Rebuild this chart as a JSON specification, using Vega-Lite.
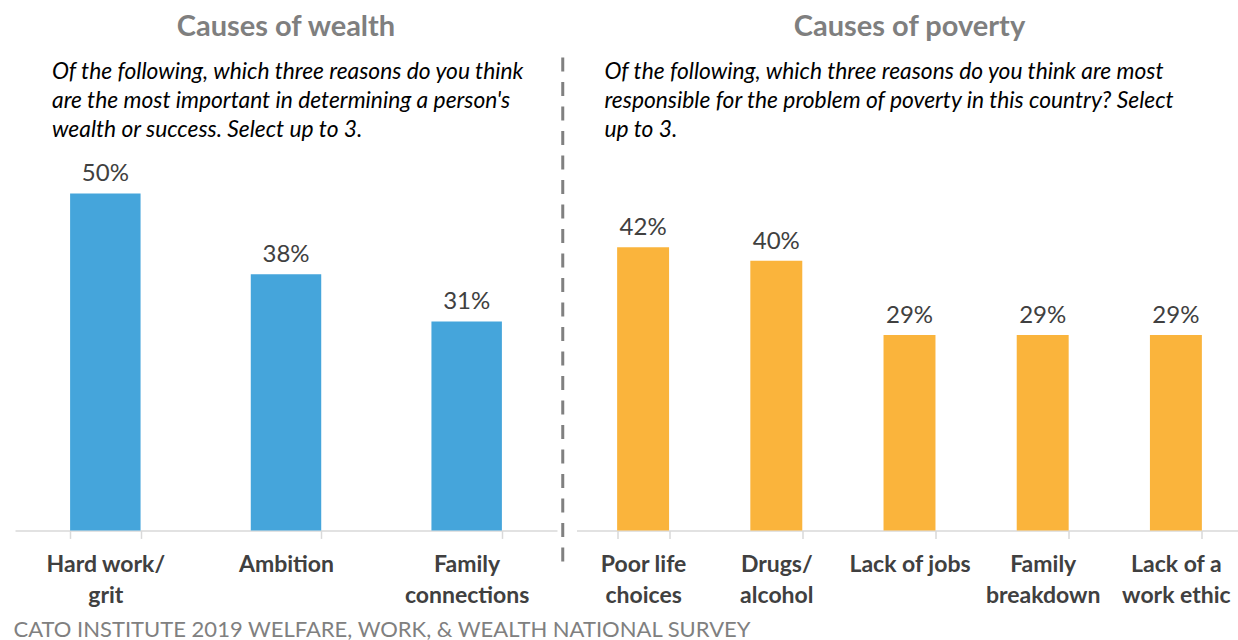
{
  "$schema": "https://vega.github.io/schema/vega-lite/v6.json",
  "padding": {"left": 13, "top": 12, "right": 0, "bottom": 0},
  "spacing": 3.75,
  "background": "white",
  "config": {
    "view": {"stroke": null},
    "font": "Lato",
    "axisX": {
      "title": null,
      "labelAngle": 0,
      "labelFont": "Lato",
      "labelFontWeight": "bold",
      "labelFontSize": 23,
      "labelColor": "#404040",
      "labelLineHeight": 31,
      "labelPadding": 15,
      "labelLimit": 0,
      "labelExpr": "split(datum.label, '\\n')",
      "domainColor": "#d9d9d9",
      "domainWidth": 1.5,
      "tickColor": "#d9d9d9",
      "tickWidth": 1.5,
      "tickSize": 8,
      "tickBand": "extent",
      "grid": false
    }
  },
  "title": {
    "text": "CATO INSTITUTE 2019 WELFARE, WORK, & WEALTH NATIONAL SURVEY",
    "orient": "bottom",
    "anchor": "start",
    "font": "Lato",
    "fontSize": 22,
    "fontWeight": "normal",
    "color": "#808080",
    "offset": 13,
    "dx": -1.5
  },
  "hconcat": [
    {
      "title": {
        "text": "Causes of wealth",
        "anchor": "middle",
        "font": "Lato",
        "fontSize": 29,
        "fontWeight": "bold",
        "color": "#7f7f7f",
        "offset": 19
      },
      "vconcat": [
        {
          "width": 542,
          "height": 377.4,
          "title": {
            "text": [
              "Of the following, which three reasons do you think",
              "are the most important in determining a person's",
              "wealth or success. Select up to 3."
            ],
            "anchor": "start",
            "dx": 37,
            "font": "Lato",
            "fontSize": 22.8,
            "fontStyle": "italic",
            "fontWeight": "normal",
            "lineHeight": 29,
            "color": "#000000",
            "offset": 11.5
          },
          "data": {
            "values": [
              {"reason": "Hard work/\ngrit", "pct": 0.50},
              {"reason": "Ambition", "pct": 0.38},
              {"reason": "Family\nconnections", "pct": 0.31}
            ]
          },
          "encoding": {
            "x": {
              "field": "reason",
              "type": "nominal",
              "sort": null,
              "scale": {"paddingInner": 0.61, "paddingOuter": 0.305}
            },
            "y": {
              "field": "pct",
              "type": "quantitative",
              "scale": {"domain": [0, 0.56]},
              "axis": null
            }
          },
          "layer": [
            {"mark": {"type": "bar", "color": "#45A5DB"}},
            {
              "mark": {"type": "text", "baseline": "alphabetic", "dy": -12, "fontSize": 24, "color": "#404040", "font": "Lato"},
              "encoding": {"text": {"field": "pct", "format": ".0%"}}
            }
          ]
        }
      ]
    },
    {
      "width": 9.5,
      "height": 377.4,
      "data": {"values": [{"separator": "panel divider"}]},
      "mark": {"type": "rule", "color": "#808080", "strokeWidth": 3, "strokeDash": [14, 10.5]},
      "encoding": {
        "x": {"datum": 0, "type": "quantitative", "scale": {"domain": [0, 1]}, "axis": null},
        "y": {"datum": 0.7018, "type": "quantitative", "scale": {"domain": [0, 0.56]}, "axis": null},
        "y2": {"datum": -0.046}
      }
    },
    {
      "title": {
        "text": "Causes of poverty",
        "anchor": "middle",
        "font": "Lato",
        "fontSize": 29,
        "fontWeight": "bold",
        "color": "#7f7f7f",
        "offset": 19
      },
      "vconcat": [
        {
          "width": 666,
          "height": 377.4,
          "title": {
            "text": [
              "Of the following, which three reasons do you think are most",
              "responsible for the problem of poverty in this country? Select",
              "up to 3."
            ],
            "anchor": "start",
            "dx": 28,
            "font": "Lato",
            "fontSize": 22.8,
            "fontStyle": "italic",
            "fontWeight": "normal",
            "lineHeight": 29,
            "color": "#000000",
            "offset": 11.5
          },
          "data": {
            "values": [
              {"reason": "Poor life\nchoices", "pct": 0.42},
              {"reason": "Drugs/\nalcohol", "pct": 0.40},
              {"reason": "Lack of jobs", "pct": 0.29},
              {"reason": "Family\nbreakdown", "pct": 0.29},
              {"reason": "Lack of a\nwork ethic", "pct": 0.29}
            ]
          },
          "encoding": {
            "x": {
              "field": "reason",
              "type": "nominal",
              "sort": null,
              "scale": {"paddingInner": 0.61, "paddingOuter": 0.305}
            },
            "y": {
              "field": "pct",
              "type": "quantitative",
              "scale": {"domain": [0, 0.56]},
              "axis": null
            }
          },
          "layer": [
            {"mark": {"type": "bar", "color": "#FAB43C"}},
            {
              "mark": {"type": "text", "baseline": "alphabetic", "dy": -12, "fontSize": 24, "color": "#404040", "font": "Lato"},
              "encoding": {"text": {"field": "pct", "format": ".0%"}}
            }
          ]
        }
      ]
    }
  ]
}
